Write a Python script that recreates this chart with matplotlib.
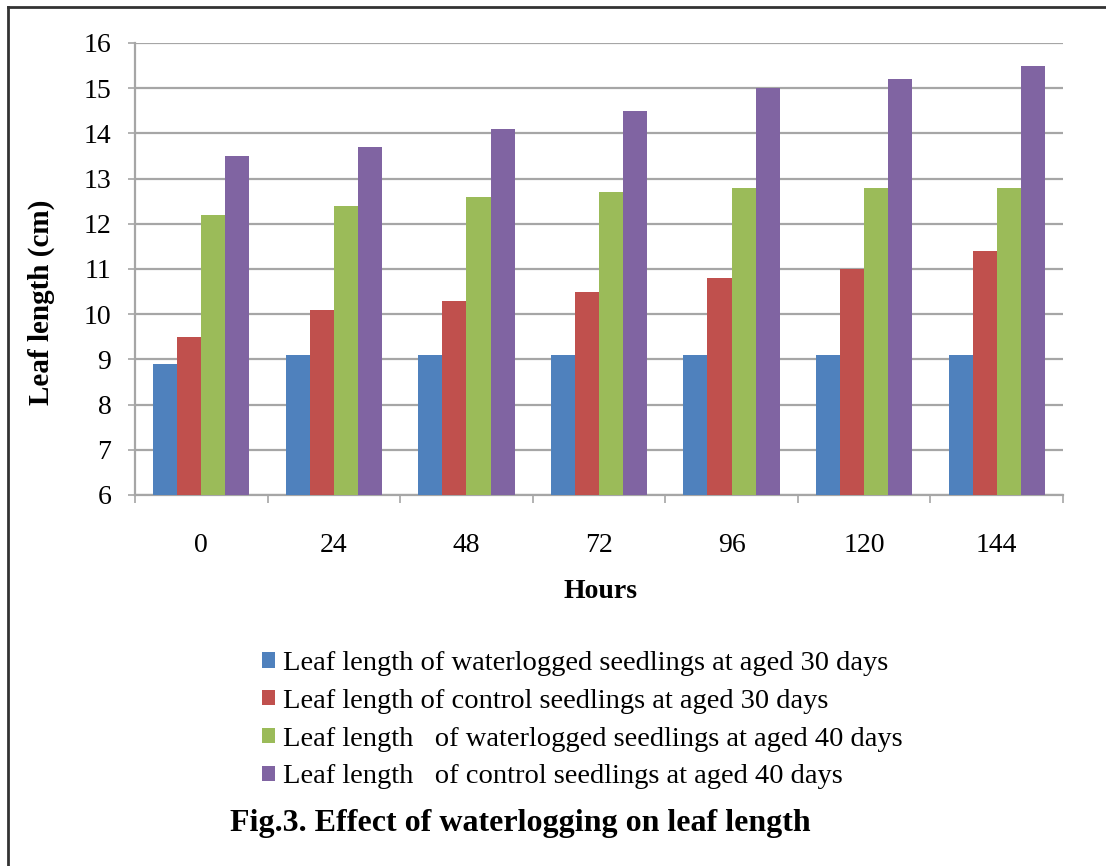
import matplotlib
matplotlib.use("Agg")
import matplotlib.pyplot as plt
import numpy as np
from matplotlib.lines import Line2D

plt.rcParams['font.family'] = ['Liberation Serif', 'DejaVu Serif']

hours = ["0", "24", "48", "72", "96", "120", "144"]
wl_30 = [8.9, 9.1, 9.1, 9.1, 9.1, 9.1, 9.1]
ctrl_30 = [9.5, 10.1, 10.3, 10.5, 10.8, 11.0, 11.4]
wl_40 = [12.2, 12.4, 12.6, 12.7, 12.8, 12.8, 12.8]
ctrl_40 = [13.5, 13.7, 14.1, 14.5, 15.0, 15.2, 15.5]

series_labels = [
    "Leaf length of waterlogged seedlings at aged 30 days",
    "Leaf length of control seedlings at aged 30 days",
    "Leaf length   of waterlogged seedlings at aged 40 days",
    "Leaf length   of control seedlings at aged 40 days",
]
colors = ["#4F81BD", "#C0504D", "#9BBB59", "#8064A2"]
y_ticks = list(range(6, 17))

W, H = 1106, 866
fig = plt.figure(figsize=(W / 100, H / 100), dpi=100)
ax = fig.add_axes([135 / W, 1 - 495 / H, (1063 - 135) / W, (495 - 43) / H])

series = [wl_30, ctrl_30, wl_40, ctrl_40]
n = len(series)
x = np.arange(len(hours))
bw = 1 / 5.5  # Excel-style 150% gap width
for i, (vals, col, lab) in enumerate(zip(series, colors, series_labels)):
    offs = (i - (n - 1) / 2) * bw
    ax.bar(x + offs, np.array(vals) - 6, bottom=6, width=bw, color=col,
           label=lab, zorder=3)

ax.set_xlim(-0.5, len(hours) - 0.5)
ax.set_ylim(6, 16)
ax.set_yticks(y_ticks)
ax.set_yticklabels([str(t) for t in y_ticks], fontsize=20)
ax.yaxis.grid(True, color="#A6A6A6", linewidth=1.6, zorder=0)
ax.set_axisbelow(True)

# category labels at centres, tick marks at category boundaries
ax.set_xticks(x)
ax.set_xticklabels(hours, fontsize=20)
ax.tick_params(axis='x', which='major', length=0, pad=27)
ax.set_xticks(np.arange(-0.5, len(hours) + 0.5, 1), minor=True)
ax.tick_params(axis='x', which='minor', length=6, width=1.2, color="#A6A6A6")
ax.tick_params(axis='y', length=5, width=1.2, color="#A6A6A6", pad=12)

for s in ["top", "right"]:
    ax.spines[s].set_visible(False)
for s in ["left", "bottom"]:
    ax.spines[s].set_color("#A6A6A6")
    ax.spines[s].set_linewidth(1.6)

fig.text(41 / W, 1 - 302 / H, "Leaf length (cm)", rotation=90, ha="center",
         va="center", fontsize=21, fontweight="bold")
fig.text(600 / W, 1 - 591 / H, "Hours", ha="center", va="center",
         fontsize=20, fontweight="bold")

leg = fig.legend(loc="upper left", bbox_to_anchor=(262 / W, 1 - 651 / H),
                 frameon=False, fontsize=20.5, handlelength=0.45,
                 handleheight=0.45, handletextpad=0.3, labelspacing=0.45,
                 borderpad=0, borderaxespad=0)

fig.text(230 / W, 1 - 823 / H, "Fig.3. Effect of waterlogging on leaf length",
         ha="left", va="center", fontsize=23, fontweight="bold")

# frame lines along the top and left edges
fig.add_artist(Line2D([8 / W, 1], [1 - 7 / H, 1 - 7 / H], color="#333333",
                      linewidth=2, transform=fig.transFigure))
fig.add_artist(Line2D([8 / W, 8 / W], [0, 1 - 7 / H], color="#333333",
                      linewidth=2, transform=fig.transFigure))

fig.savefig("out.png", dpi=100)
